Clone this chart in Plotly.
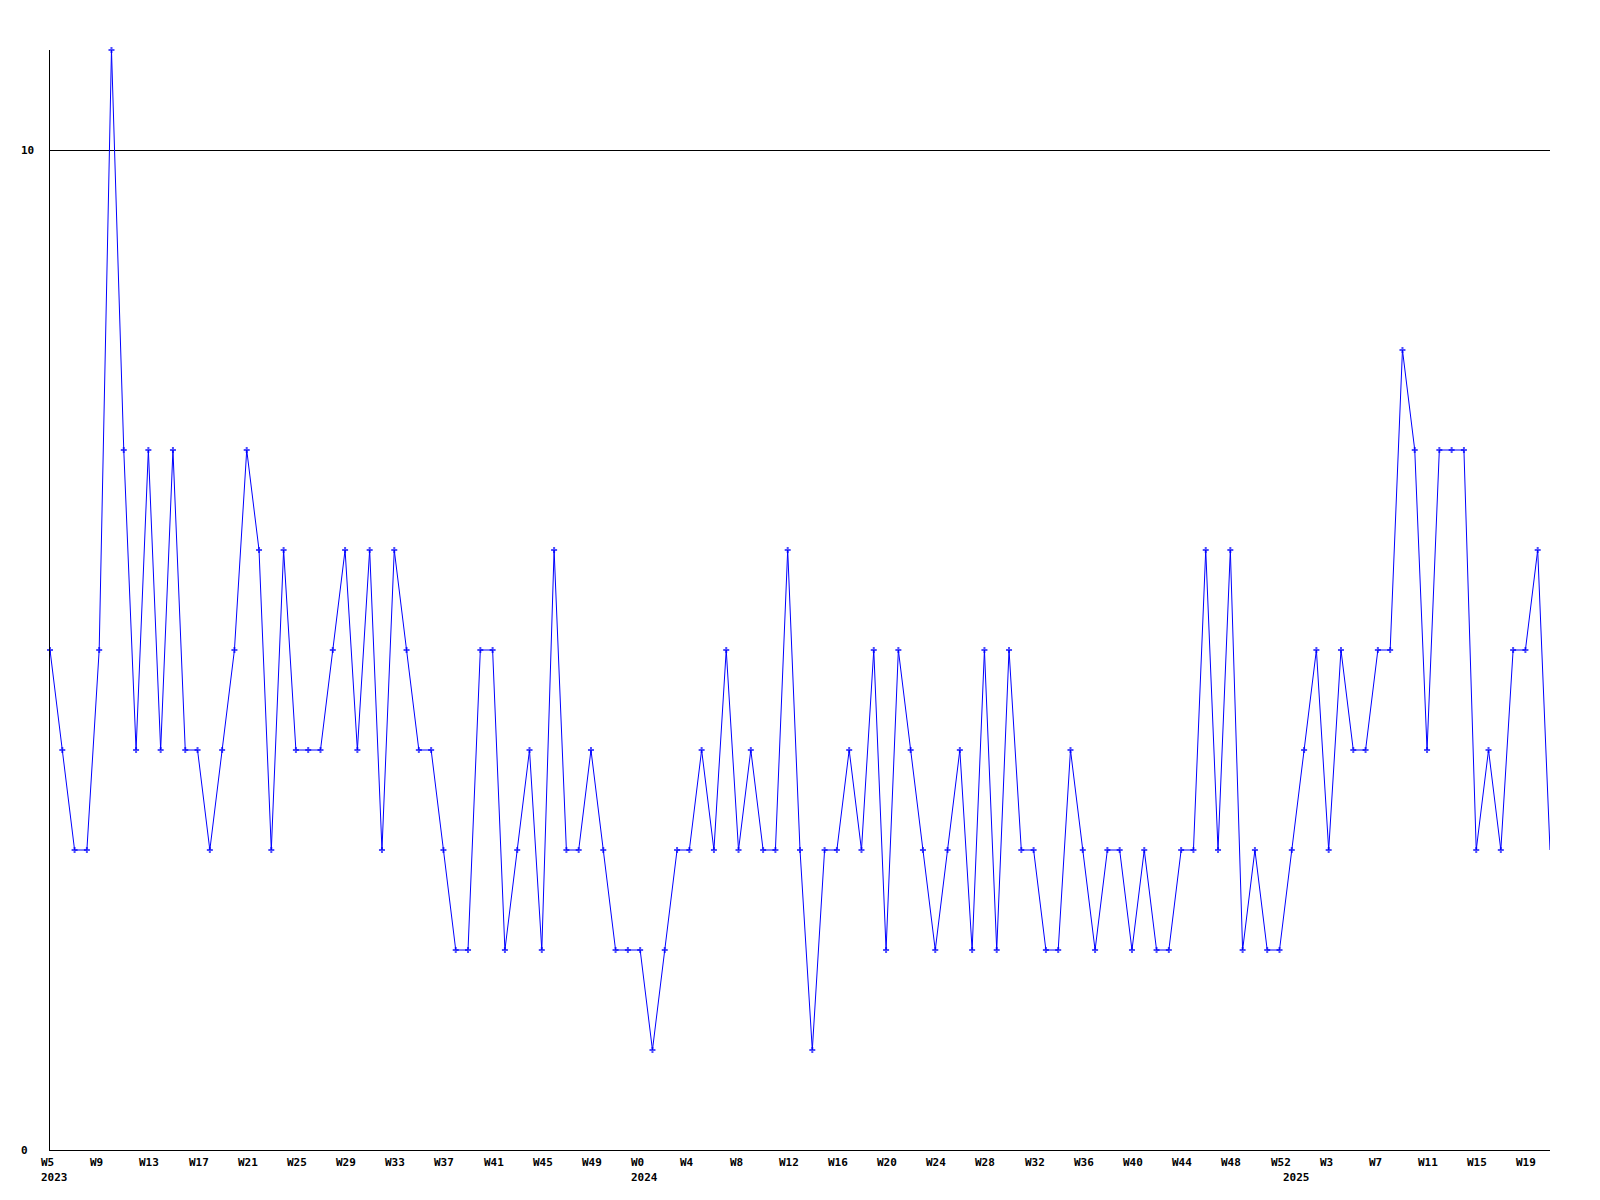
import plotly.graph_objects as go

# ---- data ----
weeks_2023 = list(range(5, 53))
weeks_2024 = list(range(0, 53))
weeks_2025 = list(range(0, 22))

values_2023 = [5, 4, 3, 3, 5, 11, 7, 4, 7, 4,
               7, 4, 4, 3, 4, 5, 7, 6, 3, 6,
               4, 4, 4, 5, 6, 4, 6, 3, 6, 5,
               4, 4, 3, 2, 2, 5, 5, 2, 3, 4,
               2, 6, 3, 3, 4, 3, 2, 2]
values_2024 = [2, 1, 2, 3, 3, 4, 3, 5, 3, 4,
               3, 3, 6, 3, 1, 3, 3, 4, 3, 5,
               2, 5, 4, 3, 2, 3, 4, 2, 5, 2,
               5, 3, 3, 2, 2, 4, 3, 2, 3, 3,
               2, 3, 2, 2, 3, 3, 6, 3, 6, 2,
               3, 2, 2]
values_2025 = [3, 4, 5, 3, 5, 4, 4, 5, 5, 8,
               7, 4, 7, 7, 7, 3, 4, 3, 5, 5,
               6, 3]

y_ticks = [0, 10]
year_labels = ["2023", "2024", "2025"]
year_weeks = [weeks_2023, weeks_2024, weeks_2025]

categories = ([f"2023-W{w}" for w in weeks_2023] +
              [f"2024-W{w}" for w in weeks_2024] +
              [f"2025-W{w}" for w in weeks_2025])
values = values_2023 + values_2024 + values_2025
week_numbers = weeks_2023 + weeks_2024 + weeks_2025

tick_step = 4
tick_idx = list(range(0, len(categories), tick_step))
tick_labels = [f"W{week_numbers[i]}" for i in tick_idx]
year_first = [categories.index(f"{y}-W{ws[0]}") for y, ws in zip(year_labels, year_weeks)]

# last (partial) week drawn without marker
marker_sizes = [5] * (len(values) - 1) + [0]

FONT = dict(family="DejaVu Sans Mono", size=11, color="black", weight="bold")

fig = go.Figure()
fig.add_trace(go.Scatter(
    x=categories, y=values, mode="lines+markers",
    line=dict(color="#0000ff", width=1),
    marker=dict(symbol="cross", size=marker_sizes, color="#0000ff", line=dict(width=0)),
    cliponaxis=False, showlegend=False,
))

annotations = []
for i, lab in zip(tick_idx, tick_labels):
    annotations.append(dict(x=categories[i], y=0, xref="x", yref="paper", text=lab,
                            showarrow=False, xanchor="left", yanchor="middle",
                            xshift=-11, yshift=-12, font=FONT))
for i, lab in zip(year_first, year_labels):
    annotations.append(dict(x=categories[i], y=0, xref="x", yref="paper", text=lab,
                            showarrow=False, xanchor="left", yanchor="middle",
                            xshift=-11, yshift=-27, font=FONT))
for t in y_ticks:
    annotations.append(dict(x=0, y=t, xref="paper", yref="y", text=str(t),
                            showarrow=False, xanchor="left", yanchor="middle",
                            xshift=-31, font=FONT))

fig.update_layout(
    width=1600, height=1200,
    margin=dict(l=42, r=58, t=42, b=58),
    paper_bgcolor="white", plot_bgcolor="white",
    xaxis=dict(type="category", range=[0, len(categories) - 1],
               showline=True, linecolor="black", linewidth=1,
               showgrid=False, zeroline=False, showticklabels=False, ticks=""),
    yaxis=dict(range=[0, 11], tickvals=y_ticks, showticklabels=False,
               showline=True, linecolor="black", linewidth=1,
               showgrid=True, gridcolor="black", gridwidth=1,
               zeroline=False, ticks=""),
    annotations=annotations,
)

fig.write_html("out.html")
